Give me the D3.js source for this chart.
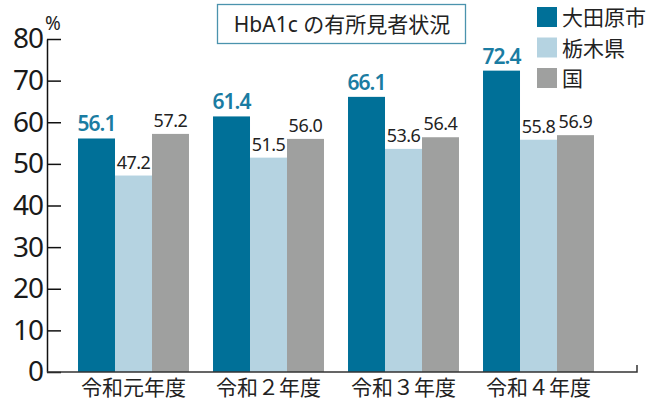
<!DOCTYPE html>
<html>
<head>
<meta charset="utf-8">
<script src="https://cdn.jsdelivr.net/npm/d3@7"></script>
<style>
  body { margin: 0; background: #fff; }
  svg { display: block; font-family: "Noto Sans", "Noto Sans CJK JP", sans-serif; }
</style>
</head>
<body>
<div id="chart"></div>
<script>
const years = ["令和元年度", "令和２年度", "令和３年度", "令和４年度"];
const seriesNames = ["大田原市", "栃木県", "国"];
const ohtawara = [56.1, 61.4, 66.1, 72.4];
const tochigi = [47.2, 51.5, 53.6, 55.8];
const national = [57.2, 56.0, 56.4, 56.9];
const yTicks = [0, 10, 20, 30, 40, 50, 60, 70, 80];

const colorTable = ["#007098", "#b5d3e1", "#9fa09f"];
const width = 662;
const height = 403;

const series = [ohtawara, tochigi, national];
const rows = years.map((y, i) => ({ year: y, values: series.map(s => s[i]) }));

const svg = d3.select("#chart")
  .append("svg")
  .attr("width", width)
  .attr("height", height);

const x = d3.scaleBand()
  .domain(years)
  .range([66, 606])
  .paddingInner(0.178)
  .paddingOuter(0.089);

const xSub = d3.scaleBand()
  .domain(d3.range(seriesNames.length))
  .range([0, x.bandwidth()]);

const y = d3.scaleLinear()
  .domain([0, 80])
  .range([372, 39]);

// bars
const groups = svg.append("g")
  .selectAll("g")
  .data(rows)
  .enter()
  .append("g")
  .attr("transform", d => `translate(${x(d.year)},0)`);

groups.selectAll("rect")
  .data(d => d.values)
  .enter()
  .append("rect")
  .attr("x", (d, i) => xSub(i))
  .attr("y", d => y(d))
  .attr("width", xSub.bandwidth())
  .attr("height", d => y(0) - y(d))
  .attr("fill", (d, i) => colorTable[i]);

groups.selectAll("text")
  .data(d => d.values)
  .enter()
  .append("text")
  .attr("x", (d, i) => xSub(i) + xSub.bandwidth() / 2)
  .attr("y", d => y(d) - 7)
  .attr("text-anchor", "middle")
  .attr("font-size", (d, i) => i === 0 ? 21 : 18)
  .attr("font-weight", (d, i) => i === 0 ? 600 : 400)
  .attr("letter-spacing", (d, i) => i === 0 ? -1 : -0.5)
  .attr("fill", (d, i) => i === 0 ? "#1a7ca2" : "#222")
  .text(d => d.toFixed(1));

// y axis
const yAxis = d3.axisLeft(y)
  .tickValues(yTicks)
  .tickSizeInner(-14)
  .tickSizeOuter(0)
  .tickPadding(4);

const yg = svg.append("g")
  .attr("transform", "translate(47,0)")
  .call(yAxis);
yg.select(".domain").attr("stroke", "#111").attr("stroke-width", 1.5);
yg.selectAll(".tick line").attr("stroke", "#111").attr("stroke-width", 1.5);
yg.selectAll(".tick text")
  .attr("font-size", 28)
  .attr("fill", "#1a1a1a")
  .attr("font-family", "Noto Sans")
  .attr("letter-spacing", -1);

svg.append("text")
  .attr("x", 45)
  .attr("y", 30)
  .attr("font-size", 19)
  .attr("fill", "#222")
  .text("%");

// x axis
const xAxis = d3.axisBottom(x)
  .tickSize(0)
  .tickPadding(8);

const xg = svg.append("g")
  .attr("transform", `translate(0,${y(0)})`)
  .call(xAxis);
xg.select(".domain").remove();
xg.selectAll(".tick text")
  .attr("font-size", 21)
  .attr("fill", "#222")
  .attr("font-family", "Noto Sans CJK JP");

svg.append("path")
  .attr("d", `M47,${y(0)}H637V${y(0) - 7}`)
  .attr("fill", "none")
  .attr("stroke", "#333")
  .attr("stroke-width", 1.5);

// title box
svg.append("rect")
  .attr("x", 217.5)
  .attr("y", 4.5)
  .attr("width", 248)
  .attr("height", 39)
  .attr("fill", "#fff")
  .attr("stroke", "#4b93ad")
  .attr("stroke-width", 1.3);

svg.append("text")
  .attr("x", 342)
  .attr("y", 32)
  .attr("text-anchor", "middle")
  .attr("font-size", 21)
  .attr("fill", "#222")
  .text("HbA1c の有所見者状況");

// legend
const legend = svg.append("g")
  .attr("transform", "translate(537,7)");

const legendItems = legend.selectAll("g")
  .data(seriesNames)
  .enter()
  .append("g")
  .attr("transform", (d, i) => `translate(0,${i * 30.5})`);

legendItems.append("rect")
  .attr("width", 20)
  .attr("height", 20)
  .attr("fill", (d, i) => colorTable[i]);

legendItems.append("text")
  .attr("x", 25)
  .attr("y", 18)
  .attr("font-size", 21)
  .attr("fill", "#222")
  .attr("font-family", "Noto Sans CJK JP")
  .text(d => d);
</script>
</body>
</html>
